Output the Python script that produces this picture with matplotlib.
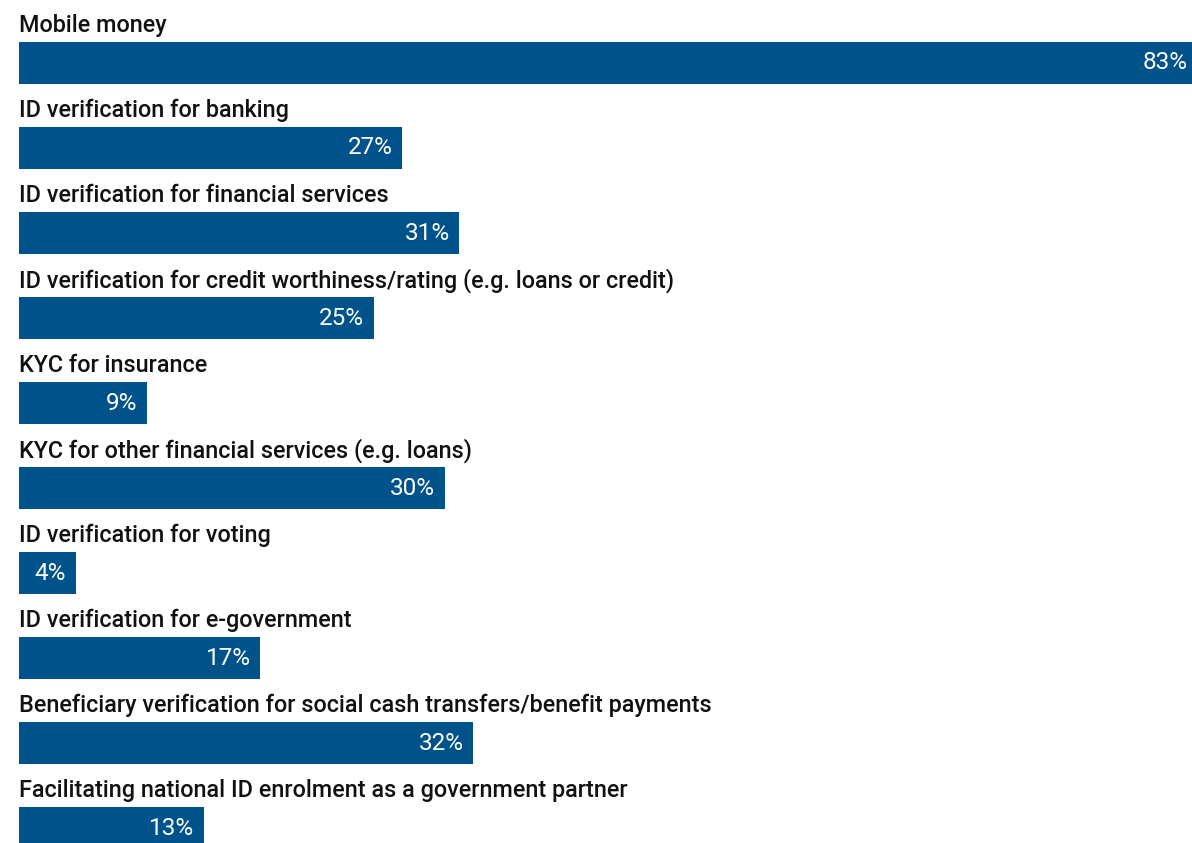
import matplotlib.pyplot as plt

# Use cases and share of respondents (%)
categories = [
    "Mobile money",
    "ID verification for banking",
    "ID verification for financial services",
    "ID verification for credit worthiness/rating (e.g. loans or credit)",
    "KYC for insurance",
    "KYC for other financial services (e.g. loans)",
    "ID verification for voting",
    "ID verification for e-government",
    "Beneficiary verification for social cash transfers/benefit payments",
    "Facilitating national ID enrolment as a government partner",
]
values = [83, 27, 31, 25, 9, 30, 4, 17, 32, 13]

bar_color = "#00538a"
font = "Roboto"

fig = plt.figure(figsize=(11.92, 8.43), dpi=100)
ax = fig.add_axes([19 / 1192, 0, 1 - 19 / 1192, 1])

rows = list(range(len(categories)))
ax.barh(rows, values, height=0.5, color=bar_color)

for i, (cat, val) in enumerate(zip(categories, values)):
    # category name above each bar
    ax.text(0, i - 0.44, cat, ha="left", va="center", fontsize=16.8,
            fontweight="medium", family=font, color="#111111")
    # value inside the bar end
    ax.annotate(f"{val}%", (val, i), xytext=(-7, 0), textcoords="offset points",
                ha="right", va="center", fontsize=17.5, family=font, color="white",
                annotation_clip=False)

# the longest bar runs slightly past the right edge
ax.set_xlim(0, 82.6)
ax.set_ylim(9.176, -0.741)
ax.axis("off")

fig.savefig("out.png", dpi=100)
